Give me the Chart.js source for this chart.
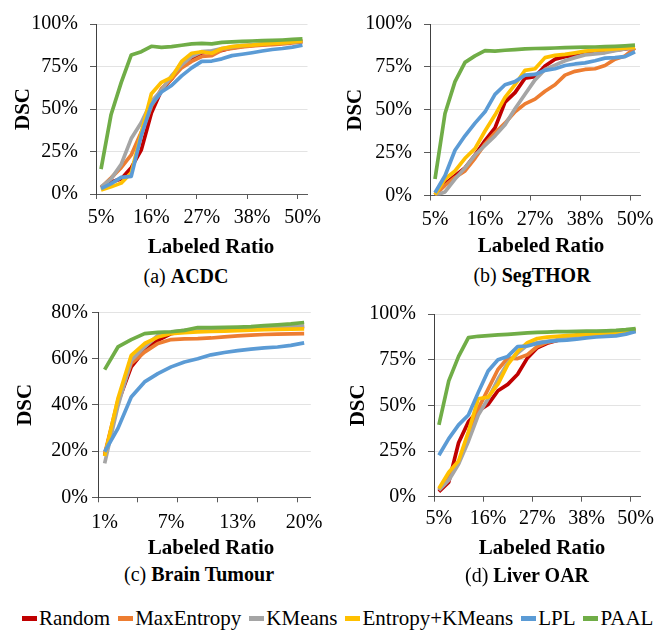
<!DOCTYPE html>
<html>
<head>
<meta charset="utf-8">
<script src="https://cdn.jsdelivr.net/npm/chart.js@4.4.1/dist/chart.umd.min.js"></script>
<style>
  body { margin: 0; background: #fff; }
  #fig { position: relative; width: 668px; height: 631px; font-family: 'Liberation Serif', 'Times New Roman', serif; color: #000; }
  canvas { position: absolute; }
  .caption { position: absolute; width: 240px; text-align: center; font-size: 20px; line-height: 24px; }
  .xtitle { position: absolute; width: 200px; text-align: center; font-size: 21px; line-height: 24px; font-weight: bold; }
  #legend { position: absolute; left: 22px; top: 606px; display: flex; align-items: center; font-size: 21px; line-height: 24px; white-space: nowrap; }
  .item { display: flex; align-items: center; margin-right: 8px; }
  .swatch { width: 15px; height: 5px; margin-right: 2px; }
</style>
</head>
<body>
<div id="fig">
  <canvas id="chartA" width="334" height="262" style="left:0;top:0"></canvas>
  <canvas id="chartB" width="334" height="262" style="left:334px;top:0"></canvas>
  <canvas id="chartC" width="334" height="272" style="left:0;top:290px"></canvas>
  <canvas id="chartD" width="334" height="272" style="left:334px;top:290px"></canvas>
  <div class="xtitle" style="left:111px;top:234px">Labeled Ratio</div>
  <div class="xtitle" style="left:441px;top:233px">Labeled Ratio</div>
  <div class="xtitle" style="left:111px;top:535px">Labeled Ratio</div>
  <div class="xtitle" style="left:442px;top:535px">Labeled Ratio</div>
  <div class="caption" style="left:66px;top:264px">(a) <b>ACDC</b></div>
  <div class="caption" style="left:412px;top:263px">(b) <b>SegTHOR</b></div>
  <div class="caption" style="left:79px;top:562px">(c) <b>Brain Tumour</b></div>
  <div class="caption" style="left:407px;top:563px">(d) <b>Liver OAR</b></div>
  <div id="legend"></div>
</div>
<script>
// x categories (labeled ratio), only every 5th one is printed
const ratioTicks = ['5%', '7%', '9%', '12%', '14%', '16%', '18%', '20%', '23%', '25%', '27%',
                    '29%', '32%', '34%', '36%', '38%', '41%', '43%', '45%', '47%', '50%'];
const brainTicks = ['1%', '2%', '4%', '5%', '6%', '7%', '9%', '10%', '11%', '12%', '13%',
                    '15%', '16%', '17%', '19%', '20%'];

const methods = ['Random', 'MaxEntropy', 'KMeans', 'Entropy+KMeans', 'LPL', 'PAAL'];
const colors = ['#C00000', '#ED7D31', '#A5A5A5', '#FFC000', '#5B9BD5', '#70AD47'];

// (a) ACDC - DSC %
const acdcRandom = [4.0, 7.0, 8.9, 15.5, 26.0, 47.7, 61.0, 67.6, 76.0, 80.0, 83.0, 83.7, 84.5, 86.0, 86.8, 87.4, 87.9, 88.4, 88.8, 89.3, 89.7];
const acdcMaxEnt = [3.8, 9.5, 15.5, 23.0, 36.4, 51.5, 62.0, 67.6, 74.2, 78.0, 80.9, 81.4, 84.7, 85.6, 86.5, 87.1, 87.5, 87.9, 88.3, 88.9, 89.4];
const acdcKMeans = [4.2, 8.9, 17.4, 32.6, 42.0, 54.4, 61.0, 69.5, 76.0, 80.9, 83.7, 84.2, 85.5, 86.5, 87.3, 87.8, 88.3, 88.7, 89.1, 89.5, 89.9];
const acdcEntKM  = [2.3, 4.2, 6.4, 12.5, 36.0, 59.0, 65.7, 68.6, 78.0, 82.8, 83.7, 82.8, 85.6, 86.7, 87.3, 87.6, 88.2, 88.6, 88.9, 89.5, 90.0];
const acdcLPL    = [3.2, 6.1, 9.8, 10.4, 34.5, 52.4, 60.0, 63.8, 69.5, 74.2, 78.0, 78.2, 79.5, 81.4, 82.2, 83.1, 84.1, 85.0, 85.6, 86.4, 87.5];
const acdcPAAL   = [14.6, 46.8, 65.5, 81.8, 83.7, 86.9, 86.2, 86.7, 87.5, 88.3, 88.6, 88.3, 89.2, 89.5, 89.8, 90.0, 90.2, 90.4, 90.6, 90.9, 91.2];

// (b) SegTHOR
const segRandom = [0.5, 6.8, 11.5, 16.1, 23.6, 32.0, 39.4, 54.4, 60.0, 68.4, 69.3, 75.5, 79.5, 81.0, 81.8, 82.8, 83.5, 84.2, 84.8, 85.5, 86.2];
const segMaxEnt = [0.2, 5.9, 10.5, 14.3, 21.7, 30.1, 36.6, 42.2, 48.8, 53.4, 56.2, 60.8, 64.6, 70.2, 72.4, 73.5, 73.9, 75.8, 79.5, 81.4, 86.0];
const segKMeans = [0.0, 2.1, 9.6, 16.1, 23.6, 29.2, 34.8, 41.3, 50.6, 59.0, 67.4, 73.5, 76.0, 78.6, 80.4, 82.0, 82.6, 83.2, 84.5, 85.5, 86.4];
const segEntKM  = [0.4, 9.6, 14.3, 21.7, 27.3, 37.6, 46.9, 57.2, 64.6, 73.0, 73.9, 80.4, 81.7, 82.3, 83.2, 84.2, 84.7, 85.1, 85.5, 85.9, 86.4];
const segLPL    = [1.6, 11.5, 26.4, 34.8, 42.2, 48.8, 59.0, 64.6, 66.4, 70.2, 70.6, 73.0, 73.9, 75.8, 76.7, 77.3, 78.6, 80.1, 80.4, 81.0, 83.8];
const segPAAL   = [9.6, 47.8, 66.4, 77.6, 81.4, 84.5, 84.2, 84.7, 85.1, 85.5, 85.7, 85.8, 86.0, 86.2, 86.4, 86.5, 86.6, 86.8, 87.0, 87.3, 87.7];

// (c) Brain Tumour
const brainRandom = [18.0, 41.0, 56.4, 63.6, 67.9, 70.8, 71.8, 72.0, 72.2, 72.5, 72.7, 72.9, 73.1, 73.3, 73.6, 73.8];
const brainMaxEnt = [18.6, 42.0, 57.8, 62.8, 66.5, 68.2, 68.5, 68.6, 68.9, 69.4, 69.8, 70.1, 70.4, 70.6, 70.7, 70.8];
const brainKMeans = [14.7, 39.5, 59.3, 65.0, 70.0, 71.4, 72.2, 72.6, 72.8, 73.0, 73.1, 73.3, 73.4, 73.6, 73.8, 74.0];
const brainEntKM  = [17.8, 42.7, 61.4, 66.5, 69.3, 70.8, 71.2, 71.5, 71.7, 71.9, 72.1, 72.3, 72.5, 72.6, 72.7, 72.8];
const brainLPL    = [19.7, 29.8, 43.4, 49.9, 53.5, 56.4, 58.5, 59.9, 61.6, 62.6, 63.4, 64.1, 64.6, 65.0, 65.7, 66.8];
const brainPAAL   = [55.2, 65.0, 68.2, 70.8, 71.3, 71.6, 72.2, 73.4, 73.4, 73.5, 73.6, 73.8, 74.2, 74.6, 75.0, 75.6];

// (d) Liver OAR
const liverRandom = [2.7, 8.0, 29.5, 41.0, 47.0, 50.5, 58.0, 61.5, 67.0, 76.0, 81.5, 84.0, 85.5, 86.5, 87.2, 87.8, 88.3, 88.8, 89.4, 90.2, 91.0];
const liverMaxEnt = [3.6, 12.5, 18.7, 34.0, 48.2, 58.9, 69.6, 75.9, 75.6, 77.7, 82.2, 84.5, 85.5, 86.5, 87.2, 87.8, 88.3, 88.8, 89.4, 90.2, 91.0];
const liverKMeans = [3.5, 9.0, 17.9, 30.4, 44.7, 53.6, 64.3, 73.2, 78.6, 83.0, 84.3, 85.0, 85.8, 86.5, 87.2, 87.8, 88.3, 88.8, 89.4, 90.2, 91.2];
const liverEntKM  = [4.5, 13.4, 19.6, 35.7, 53.6, 54.5, 61.6, 72.3, 79.5, 84.3, 86.6, 87.3, 87.8, 88.2, 88.6, 88.9, 89.2, 89.5, 89.9, 90.6, 91.4];
const liverLPL    = [22.7, 31.8, 39.3, 44.7, 57.1, 68.8, 75.0, 76.8, 82.2, 82.5, 83.9, 84.8, 85.4, 85.7, 86.2, 86.9, 87.4, 87.7, 88.0, 89.0, 90.5];
const liverPAAL   = [39.3, 63.4, 76.8, 87.1, 87.8, 88.2, 88.6, 88.9, 89.3, 89.7, 89.9, 90.1, 90.3, 90.4, 90.5, 90.6, 90.6, 90.8, 91.0, 91.4, 92.0];

const tickFont = { family: 'Liberation Serif', size: 20 };
const titleFont = { family: 'Liberation Serif', size: 21, weight: 'bold' };

function drawPanel(id, cats, series, yMax, yStep, tickEvery, lay) {
    const ctx = document.getElementById(id).getContext('2d');
    new Chart(ctx, {
        type: 'line',
        data: {
            labels: cats,
            datasets: series.map((vals, i) => ({
                label: methods[i],
                data: vals,
                borderColor: colors[i],
                backgroundColor: colors[i],
                borderWidth: 3.7,
                pointRadius: 0,
                tension: 0,
                borderJoinStyle: 'round',
                order: series.length - i
            }))
        },
        options: {
            responsive: false,
            animation: false,
            layout: { padding: { left: 0, top: lay.top, right: lay.right, bottom: 0 } },
            plugins: { legend: { display: false }, tooltip: { enabled: false } },
            scales: {
                x: {
                    type: 'category',
                    offset: true,
                    grid: {
                        offset: true,
                        drawOnChartArea: false,
                        tickLength: 5,
                        color: c => (c.index % tickEvery === 0 ? '#595959' : 'rgba(0,0,0,0)')
                    },
                    border: { color: '#595959' },
                    ticks: {
                        autoSkip: false,
                        maxRotation: 0,
                        padding: lay.xPad,
                        color: '#000',
                        font: tickFont,
                        callback: function (val, idx) {
                            return idx % 5 === 0 ? this.getLabelForValue(val) : '';
                        }
                    },
                    // x title is placed as html text below the axis
                    title: { display: false },
                    afterFit: s => { s.height = lay.xh; }
                },
                y: {
                    min: 0,
                    max: yMax,
                    grid: { color: '#e3e3e3', tickColor: '#595959', tickLength: 6 },
                    border: { color: '#404040' },
                    ticks: {
                        stepSize: yStep,
                        padding: lay.yPad,
                        color: '#000',
                        font: tickFont,
                        callback: v => v + '%'
                    },
                    title: {
                        display: true, text: 'DSC', color: '#000', font: titleFont,
                        padding: { top: lay.yTitle, bottom: 0 }
                    },
                    afterFit: s => { s.width = lay.yw; }
                }
            }
        }
    });
}

drawPanel('chartA', ratioTicks, [acdcRandom, acdcMaxEnt, acdcKMeans, acdcEntKM, acdcLPL, acdcPAAL], 100, 25, 5,
    { top: 18, right: 26.5, xh: 68, yw: 96, xPad: 7, yPad: 12, yTitle: 10.5 });
drawPanel('chartB', ratioTicks, [segRandom, segMaxEnt, segKMeans, segEntKM, segLPL, segPAAL], 100, 25, 5,
    { top: 16.7, right: 28, xh: 66.5, yw: 96, xPad: 7, yPad: 12, yTitle: 9 });
drawPanel('chartC', brainTicks, [brainRandom, brainMaxEnt, brainKMeans, brainEntKM, brainLPL, brainPAAL], 80, 20, 3,
    { top: 22.3, right: 23.2, xh: 64.7, yw: 98, xPad: 8, yPad: 4, yTitle: 12.5 });
drawPanel('chartD', ratioTicks, [liverRandom, liverMaxEnt, liverKMeans, liverEntKM, liverLPL, liverPAAL], 100, 25, 5,
    { top: 20, right: 27.4, xh: 65.3, yw: 100, xPad: 5, yPad: 12, yTitle: 11.5 });

// shared legend under the four panels
const legend = document.getElementById('legend');
methods.forEach((m, i) => {
    const item = document.createElement('div');
    item.className = 'item';
    item.innerHTML = '<span class="swatch" style="background:' + colors[i] + '"></span>' + m;
    legend.appendChild(item);
});
</script>
</body>
</html>
